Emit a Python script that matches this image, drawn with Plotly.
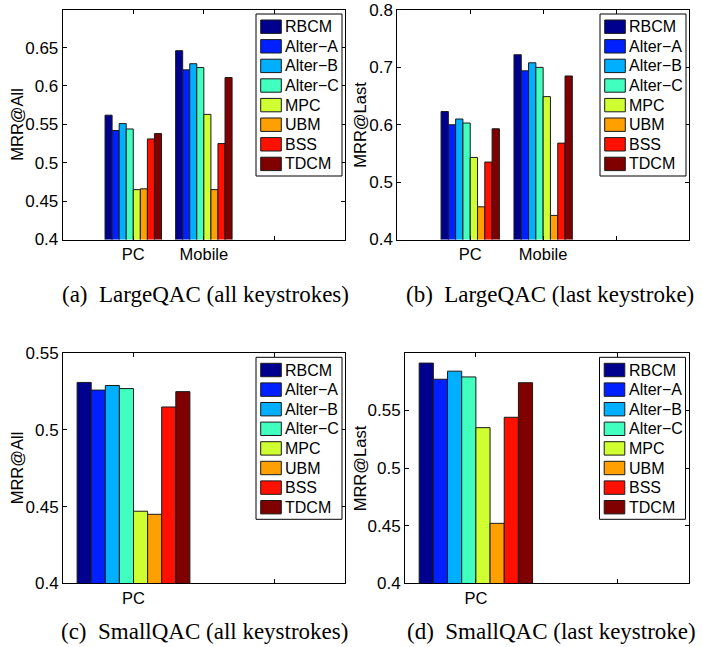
import plotly.graph_objects as go

W, H = 702, 647

# ---------------- data ----------------
series = ["RBCM", "Alter\u2212A", "Alter\u2212B", "Alter\u2212C", "MPC", "UBM", "BSS", "TDCM"]
colors = ["#00008F", "#0020FF", "#00AFFF", "#40FFBF", "#CFFF30", "#FF9F00", "#FF1000", "#800000"]

large_groups = ["PC", "Mobile", ""]
small_groups = ["PC", ""]

large_all_pc = [0.562, 0.542, 0.551, 0.544, 0.465, 0.466, 0.531, 0.538]
large_all_mobile = [0.646, 0.621, 0.629, 0.624, 0.563, 0.465, 0.525, 0.611]
large_last_pc = [0.623, 0.600, 0.610, 0.603, 0.543, 0.457, 0.535, 0.593]
large_last_mobile = [0.722, 0.694, 0.708, 0.700, 0.649, 0.442, 0.568, 0.685]
small_all_pc = [0.531, 0.526, 0.529, 0.527, 0.447, 0.445, 0.515, 0.525]
small_last_pc = [0.591, 0.577, 0.584, 0.579, 0.535, 0.452, 0.544, 0.574]

ticks_a = [0.4, 0.45, 0.5, 0.55, 0.6, 0.65]
ticktext_a = ["0.4", "0.45", "0.5", "0.55", "0.6", "0.65"]
ticks_b = [0.4, 0.5, 0.6, 0.7, 0.8]
ticktext_b = ["0.4", "0.5", "0.6", "0.7", "0.8"]
ticks_cd = [0.4, 0.45, 0.5, 0.55]
ticktext_cd = ["0.4", "0.45", "0.5", "0.55"]

captions = ["(a)\u2002LargeQAC (all keystrokes)", "(b)\u2002LargeQAC (last keystroke)",
            "(c)\u2002SmallQAC (all keystrokes)", "(d)\u2002SmallQAC (last keystroke)"]
ytitles = ["MRR@All", "MRR@Last", "MRR@All", "MRR@Last"]

# ---------------- layout helpers ----------------
def px(x):
    return x / W

def py(y):
    return 1 - y / H

panels = [
    dict(box=(62.7, 345, 10, 239.5), yr=[0.4, 0.699], yt=ticks_a, ytt=ticktext_a,
         xr=[0, 4], groups=large_groups, data=[large_all_pc, large_all_mobile],
         ylab_x=17, cap=(206, 294)),
    dict(box=(397.3, 689, 10, 239.5), yr=[0.4, 0.8], yt=ticks_b, ytt=ticktext_b,
         xr=[0, 4], groups=large_groups, data=[large_last_pc, large_last_mobile],
         ylab_x=360, cap=(550, 294)),
    dict(box=(63, 345, 353.3, 583.3), yr=[0.4, 0.55], yt=ticks_cd, ytt=ticktext_cd,
         xr=[0.5, 2.5], groups=small_groups, data=[small_all_pc],
         ylab_x=17, cap=(204, 631)),
    dict(box=(405, 688.5, 353.3, 583.3), yr=[0.4, 0.5995], yt=ticks_cd, ytt=ticktext_cd,
         xr=[0.5, 2.5], groups=small_groups, data=[small_last_pc],
         ylab_x=360, cap=(551, 631)),
]

sans = "Liberation Sans, Arial, Helvetica, sans-serif"
serif = "Liberation Serif, Times New Roman, serif"

fig = go.Figure()
shapes = []
annotations = []
layout = {}

for p_i, p in enumerate(panels):
    k = "" if p_i == 0 else str(p_i + 1)
    xname, yname = "x" + k, "y" + k
    positions = list(range(1, len(p["data"]) + 1))
    for s_i, name in enumerate(series):
        fig.add_trace(go.Bar(
            x=positions,
            y=[grp[s_i] for grp in p["data"]],
            name=name,
            xaxis=xname, yaxis=yname,
            marker=dict(color=colors[s_i], line=dict(color="#1a1a1a", width=1)),
            showlegend=False,
        ))
    x0, x1, y0, y1 = p["box"]
    layout["xaxis" + k] = dict(
        domain=[px(x0), px(x1)], anchor=yname, range=p["xr"],
        tickvals=list(range(1, len(p["groups"]) + 1)), ticktext=p["groups"],
        ticks="inside", ticklen=4, tickcolor="black", mirror="ticks",
        showline=True, linecolor="black", linewidth=1, showgrid=False, zeroline=False,
        automargin=False,
        tickfont=dict(family=sans, size=16.5, color="black"),
    )
    layout["yaxis" + k] = dict(
        domain=[py(y1), py(y0)], anchor=xname, range=p["yr"],
        tickvals=p["yt"], ticktext=p["ytt"],
        ticks="inside", ticklen=4, tickcolor="black", mirror="ticks",
        showline=True, linecolor="black", linewidth=1, showgrid=False, zeroline=False,
        automargin=False,
        tickfont=dict(family=sans, size=17, color="black"),
    )
    # y-axis title
    annotations.append(dict(
        text=ytitles[p_i], x=px(p["ylab_x"]), y=py((y0 + y1) / 2), xref="paper", yref="paper",
        textangle=-90, showarrow=False, xanchor="center", yanchor="middle",
        font=dict(family=sans, size=16.5, color="black"),
    ))
    # caption
    annotations.append(dict(
        text=captions[p_i], x=px(p["cap"][0]), y=py(p["cap"][1]), xref="paper", yref="paper",
        showarrow=False, xanchor="center", yanchor="middle",
        font=dict(family=serif, size=23, color="black"),
    ))
    # legend (box, swatches, labels)
    lx1 = x1 - 3
    lx0 = lx1 - 86
    ly0 = y0 + 4
    ly1 = ly0 + 162
    shapes.append(dict(type="rect", xref="paper", yref="paper",
                       x0=px(lx0), x1=px(lx1), y0=py(ly1), y1=py(ly0),
                       line=dict(color="black", width=1), fillcolor="white", layer="above"))
    for s_i, name in enumerate(series):
        cy = ly0 + 12.7 + 19.6 * s_i
        shapes.append(dict(type="rect", xref="paper", yref="paper",
                           x0=px(lx0 + 4.7), x1=px(lx0 + 25.3),
                           y0=py(cy + 6.7), y1=py(cy - 6.7),
                           line=dict(color="#1a1a1a", width=1), fillcolor=colors[s_i], layer="above"))
        annotations.append(dict(
            text=name, x=px(lx0 + 27), y=py(cy), xref="paper", yref="paper",
            showarrow=False, xanchor="left", yanchor="middle",
            font=dict(family=sans, size=16, color="black"),
        ))

fig.update_layout(
    template="none",
    width=W, height=H,
    margin=dict(l=0, r=0, t=0, b=0, pad=0),
    paper_bgcolor="white", plot_bgcolor="white",
    barmode="group", bargap=0.2, bargroupgap=0.0,
    showlegend=False,
    shapes=shapes, annotations=annotations,
    **layout,
)

fig.write_html(
    "out.html",
    config={"displayModeBar": False},
    post_script="document.body.style.margin='0px';document.body.style.padding='0px';"
                "document.body.style.overflow='hidden';",
)
